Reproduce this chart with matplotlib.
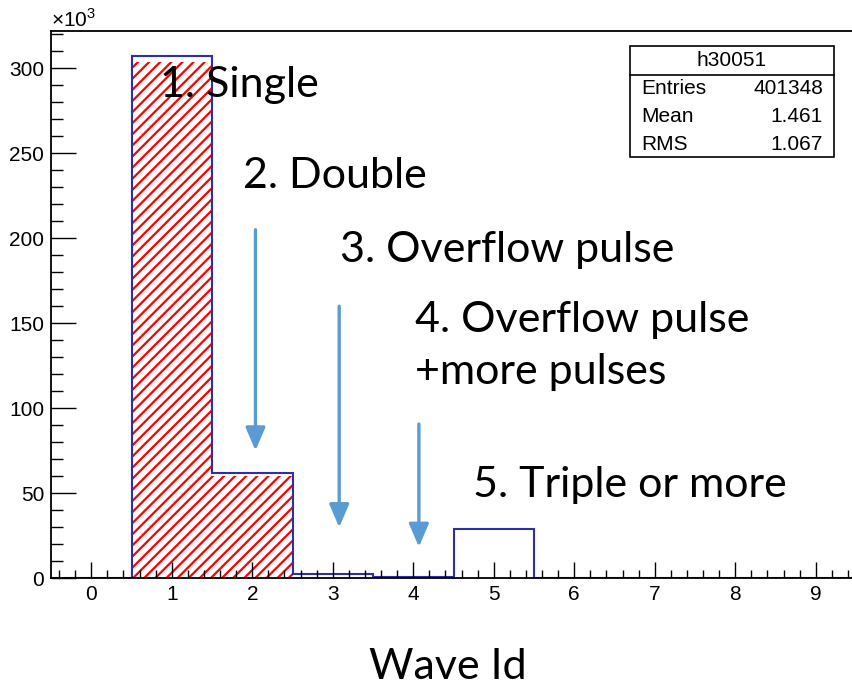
import matplotlib
matplotlib.use('Agg')
import matplotlib.pyplot as plt
from matplotlib.patches import Rectangle
from matplotlib.lines import Line2D
from matplotlib.ticker import MultipleLocator
import numpy as np

# Histogram data (counts in units of 10^3), bins centred on wave id 0..9
wave_ids = np.arange(10)
counts = [0, 307.2, 61.7, 2.6, 0.5, 28.7, 0, 0, 0, 0]
selected = [0, 304.0, 60.0, 0, 0, 0, 0, 0, 0, 0]   # hatched red histogram

# Stats box
stats_name = 'h30051'
stats_labels = ['Entries', 'Mean', 'RMS']
stats_values = ['401348', '1.461', '1.067']

# Annotation texts and arrows (x, y_start, y_end) in data coords
notes = ['1. Single', '2. Double', '3. Overflow pulse', '4. Overflow pulse\n+more pulses', '5. Triple or more']
arrows = [(2.04, 205, 75), (3.08, 160, 29.8), (4.07, 90.6, 18.3)]

W, H = 852, 686
plt.rcParams['mathtext.fontset'] = 'custom'
plt.rcParams['mathtext.rm'] = 'Liberation Sans'
plt.rcParams['hatch.linewidth'] = 1.6

fig = plt.figure(figsize=(W / 100, H / 100), dpi=100)
ax = fig.add_axes([51 / W, (H - 578) / H, 805 / W, 547 / H])

edges = np.append(wave_ids - 0.5, wave_ids[-1] + 0.5)
ax.stairs(selected, edges, fill=True, facecolor='none', edgecolor='red', hatch='///', linewidth=0)
ax.stairs(counts, edges, color='#2e2ea6', linewidth=1.5)

ax.set_xlim(-0.5, 9.5)
ax.set_ylim(0, 322)
ax.xaxis.set_major_locator(MultipleLocator(1))
ax.xaxis.set_minor_locator(MultipleLocator(0.2))
ax.yaxis.set_major_locator(MultipleLocator(50))
ax.yaxis.set_minor_locator(MultipleLocator(10))
ax.tick_params(axis='both', which='both', direction='in', color='black', width=1,
               labelsize=15, labelfontfamily='Liberation Sans')
ax.tick_params(axis='x', which='major', length=11.5, pad=5)
ax.tick_params(axis='x', which='minor', length=5.8)
ax.tick_params(axis='y', which='major', length=18, pad=5)
ax.tick_params(axis='y', which='minor', length=8.6)
ax.spines['right'].set_visible(False)
for s in ['left', 'bottom', 'top']:
    ax.spines[s].set_linewidth(1.3)

fig.text(51 / W, 1 - 27 / H, r'$\times10^{3}$', fontsize=15, va='baseline', ha='left')

# annotations
def fx(x):
    return x / W

def fy(y):
    return 1 - y / H

note_pos = [(160, 97), (243, 188), (340, 262), (415, 332), (473, 497)]
for txt, (x, y) in zip(notes, note_pos):
    for k, line in enumerate(txt.split('\n')):
        fig.text(fx(x), fy(y + 52 * k), line, fontsize=31, family='Lato',
                 va='baseline', ha='left')

for x, y0, y1 in arrows:
    ax.annotate('', xy=(x, y1), xytext=(x, y0),
                arrowprops=dict(arrowstyle='-|>,head_width=0.6,head_length=1.4',
                                color='#5b9bd5', lw=2.4, shrinkA=0, shrinkB=0))

fig.text(fx(448), fy(679), 'Wave Id', fontsize=31, family='Lato', va='baseline', ha='center')

# stats box
bx0, bx1, by0, by1 = 630, 834, 46, 157
fig.patches.append(Rectangle((fx(bx0), fy(by1)), (bx1 - bx0) / W, (by1 - by0) / H,
                             transform=fig.transFigure, facecolor='white', edgecolor='black',
                             linewidth=1.2, zorder=5))
fig.lines.append(Line2D([fx(bx0), fx(bx1)], [fy(75), fy(75)], transform=fig.transFigure,
                        color='black', linewidth=1.2, zorder=6))
fig.text(fx((bx0 + bx1) / 2), fy(61), stats_name, fontsize=15, family='Liberation Sans',
         ha='center', va='center', zorder=7)
for i, (lab, val) in enumerate(zip(stats_labels, stats_values)):
    yc = 89 + 28 * i
    fig.text(fx(641), fy(yc), lab, fontsize=15, family='Liberation Sans', ha='left', va='center', zorder=7)
    fig.text(fx(823), fy(yc), val, fontsize=15, family='Liberation Sans', ha='right', va='center', zorder=7)

fig.savefig('out.png', dpi=100)
